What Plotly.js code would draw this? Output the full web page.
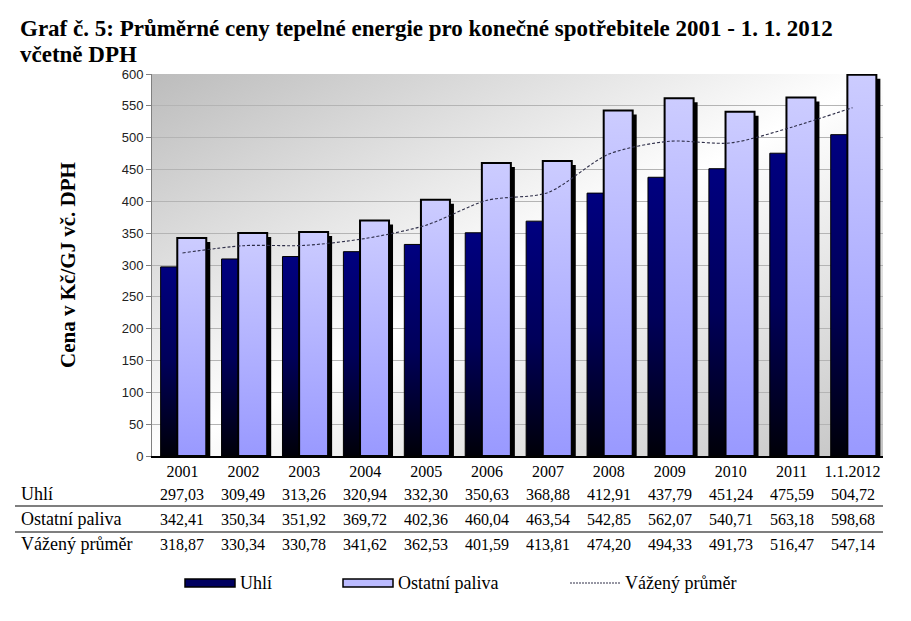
<!DOCTYPE html>
<html>
<head>
<meta charset="utf-8">
<script src="https://cdn.plot.ly/plotly-3.0.1.min.js"></script>
<style>
  html, body { margin: 0; padding: 0; background: #ffffff; }
  #chart { width: 911px; height: 621px; }
</style>
</head>
<body>
<div id="chart"></div>
<script>
// Average heat prices for end consumers (CZK/GJ incl. VAT)
const years = ['2001', '2002', '2003', '2004', '2005', '2006', '2007', '2008', '2009', '2010', '2011', '1.1.2012'];
const uhli = [297.03, 309.49, 313.26, 320.94, 332.30, 350.63, 368.88, 412.91, 437.79, 451.24, 475.59, 504.72];
const ostatni = [342.41, 350.34, 351.92, 369.72, 402.36, 460.04, 463.54, 542.85, 562.07, 540.71, 563.18, 598.68];
const prumer = [318.87, 330.34, 330.78, 341.62, 362.53, 401.59, 413.81, 474.20, 494.33, 491.73, 516.47, 547.14];
const seriesNames = ['Uhlí', 'Ostatní paliva', 'Vážený průměr'];
const yTicks = [0, 50, 100, 150, 200, 250, 300, 350, 400, 450, 500, 550, 600];

// page geometry (px)
const W = 911, H = 621;
const M = { l: 152, r: 28, t: 74, b: 165 };
const plotW = W - M.l - M.r, plotH = H - M.t - M.b;
const catPx = plotW / years.length;
const yMax = 600;
const px2x = px => (px - M.l) / plotW;          // page x -> paper x
const px2y = py => (H - M.b - py) / plotH;      // page y -> paper y

const serif = 'Liberation Serif, Times New Roman, serif';
const sans = 'Liberation Sans, Arial, sans-serif';
const fmt = v => v.toFixed(2).replace('.', ',');

const barW = 0.476;
const offU = -0.358, offO = -0.085;
const shadowDx = 4 / catPx;
const shadowDy = 4 * yMax / plotH;

const data = [
  {
    type: 'bar', name: seriesNames[0], x: years, y: uhli,
    width: barW, offset: offU,
    marker: { color: '#000070', line: { color: '#000000', width: 1 } },
    hoverinfo: 'skip'
  },
  {
    // drop shadow behind the "Ostatní paliva" bars
    type: 'bar', name: 'shadow', x: years, y: ostatni,
    base: -shadowDy, width: barW, offset: offO + shadowDx,
    marker: { color: '#000000', line: { width: 0 } },
    hoverinfo: 'skip'
  },
  {
    type: 'bar', name: seriesNames[1], x: years, y: ostatni,
    width: barW, offset: offO,
    marker: { color: '#BBBBFF', line: { color: '#000000', width: 2 } },
    hoverinfo: 'skip'
  },
  {
    type: 'scatter', mode: 'lines', name: seriesNames[2], x: years, y: prumer,
    line: { color: '#2e2e48', width: 1.1, dash: '3px,2px', shape: 'spline', smoothing: 0.8 },
    hoverinfo: 'skip'
  }
];

// data table under the chart
const rowY = [494, 519, 544];
const tableRows = [uhli, ostatni, prumer];
const annotations = [];
tableRows.forEach((row, r) => {
  annotations.push({
    xref: 'paper', yref: 'paper', x: px2x(19), y: px2y(rowY[r]),
    xanchor: 'left', yanchor: 'middle', showarrow: false,
    text: seriesNames[r], font: { family: serif, size: 18, color: '#000000' }
  });
  row.forEach((v, i) => {
    annotations.push({
      xref: 'x', yref: 'paper', x: i, y: px2y(rowY[r]),
      xanchor: 'center', yanchor: 'middle', showarrow: false,
      text: fmt(v), font: { family: serif, size: 16, color: '#000000' }
    });
  });
});

// legend (wide swatches)
const legY = 583;
const legend = [
  { x: 185, w: 50, kind: 'bar', fill: '#000060', name: seriesNames[0] },
  { x: 343, w: 50, kind: 'bar', fill: '#BBBBFF', name: seriesNames[1] },
  { x: 570, w: 50, kind: 'line', name: seriesNames[2] }
];
const shapes = [];
legend.forEach(it => {
  if (it.kind === 'bar') {
    shapes.push({
      type: 'rect', xref: 'paper', yref: 'paper',
      x0: px2x(it.x), x1: px2x(it.x + it.w), y0: px2y(legY + 4), y1: px2y(legY - 4),
      fillcolor: it.fill, line: { color: '#000000', width: 1.5 }
    });
  } else {
    shapes.push({
      type: 'line', xref: 'paper', yref: 'paper',
      x0: px2x(it.x), x1: px2x(it.x + it.w), y0: px2y(legY), y1: px2y(legY),
      line: { color: '#2e2e48', width: 1, dash: '2px,1px' }
    });
  }
  annotations.push({
    xref: 'paper', yref: 'paper', x: px2x(it.x + it.w + 3), y: px2y(legY),
    xanchor: 'left', yanchor: 'middle', showarrow: false,
    text: it.name, font: { family: serif, size: 18, color: '#000000' }
  });
});

// table rules
[506, 532].forEach(py => {
  shapes.push({
    type: 'line', xref: 'paper', yref: 'paper',
    x0: px2x(15), x1: px2x(W - M.r), y0: px2y(py), y1: px2y(py),
    line: { color: '#000000', width: 1.2 }
  });
});

const layout = {
  width: W, height: H,
  margin: M,
  paper_bgcolor: '#ffffff',
  plot_bgcolor: '#e8e8e8',
  showlegend: false,
  barmode: 'overlay',
  title: {
    text: '<b>Graf č. 5: Průměrné ceny tepelné energie pro konečné spotřebitele 2001 - 1. 1. 2012<br>včetně DPH</b>',
    xref: 'container', yref: 'container',
    x: 20 / W, xanchor: 'left', y: 1 - 36 / H, yanchor: 'top',
    font: { family: serif, size: 23, color: '#000000' }
  },
  xaxis: {
    type: 'category', categoryorder: 'array', categoryarray: years,
    range: [-0.5, years.length - 0.5],
    showgrid: false, zeroline: false,
    showline: true, linecolor: '#000000', linewidth: 1.5,
    ticks: '', tickfont: { family: serif, size: 16, color: '#000000' },
    fixedrange: true
  },
  yaxis: {
    range: [0, yMax], tickmode: 'array', tickvals: yTicks,
    ticktext: yTicks.map(String),
    showgrid: true, gridcolor: '#b4b4b4', gridwidth: 1,
    zeroline: false,
    showline: true, linecolor: '#808080', linewidth: 1,
    ticks: 'outside', ticklen: 5, tickcolor: '#808080',
    tickfont: { family: sans, size: 13, color: '#222222' },
    title: {
      text: '<b>Cena v Kč/GJ vč. DPH</b>', standoff: 40,
      font: { family: serif, size: 21, color: '#000000' }
    },
    automargin: false,
    fixedrange: true
  },
  shapes: shapes,
  annotations: annotations
};

function addGradient(defs, id, attrs, stops) {
  const NS = 'http://www.w3.org/2000/svg';
  const g = document.createElementNS(NS, 'linearGradient');
  g.setAttribute('id', id);
  Object.keys(attrs).forEach(k => g.setAttribute(k, attrs[k]));
  stops.forEach(([off, col]) => {
    const s = document.createElementNS(NS, 'stop');
    s.setAttribute('offset', off);
    s.setAttribute('stop-color', col);
    g.appendChild(s);
  });
  defs.appendChild(g);
}

Plotly.newPlot('chart', data, layout, { staticPlot: true, displayModeBar: false }).then(gd => {
  const NS = 'http://www.w3.org/2000/svg';
  const svg = gd.querySelector('svg.main-svg');
  const defs = document.createElementNS(NS, 'defs');
  svg.insertBefore(defs, svg.firstChild);
  addGradient(defs, 'gradBg', { x1: 0, y1: 0, x2: 1, y2: 1 },
    [[0, '#bcbcbc'], [0.5, '#ffffff'], [1, '#c4c4c4']]);
  addGradient(defs, 'gradU', { x1: 0, y1: 0, x2: 0, y2: 1 },
    [[0, '#000080'], [0.5, '#00005a'], [1, '#000008']]);
  addGradient(defs, 'gradO', { x1: 0, y1: 0, x2: 0, y2: 1 },
    [[0, '#ccccff'], [1, '#9999ff']]);

  const bg = gd.querySelector('.bglayer .bg');
  if (bg) bg.style.fill = 'url(#gradBg)';

  const traces = gd.querySelectorAll('.barlayer .trace');
  const fills = ['url(#gradU)', null, 'url(#gradO)'];
  traces.forEach((t, i) => {
    if (!fills[i]) return;
    t.querySelectorAll('path').forEach(p => { p.style.fill = fills[i]; });
  });

  // tighter leading for the two-line title
  const lines = gd.querySelectorAll('.g-gtitle tspan.line');
  if (lines.length > 1) lines[1].setAttribute('dy', '1.12em');
});
</script>
</body>
</html>
